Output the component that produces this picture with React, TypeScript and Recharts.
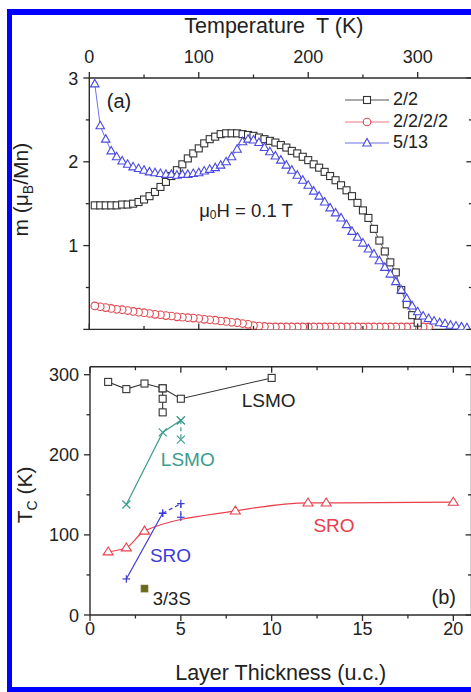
import React from 'react';
import { ComposedChart, Line, XAxis, YAxis, ReferenceDot, Legend, Label } from 'recharts';

const FONT = '"Liberation Sans", Arial, Helvetica, sans-serif';
const AX = '#2b2b2b';

// ---------- Panel (a): magnetization vs temperature ----------
const tempTicks = [0, 50, 100, 150, 200, 250, 300, 350];
const mTicks = [0, 0.5, 1, 1.5, 2, 2.5, 3];

const t22 = [5, 10, 15, 20, 25, 30, 35, 40, 45, 50, 55, 60, 65, 70, 75, 80, 85, 90, 95, 100, 105, 110, 115, 120, 125, 130, 135, 140, 145, 150, 155, 160, 165, 170, 175, 180, 185, 190, 195, 200, 205, 210, 215, 220, 225, 230, 235, 240, 245, 250, 255, 260, 265, 270, 275, 280, 285, 290, 295, 300];
const m22 = [1.48, 1.48, 1.48, 1.48, 1.48, 1.49, 1.49, 1.5, 1.52, 1.55, 1.59, 1.64, 1.7, 1.76, 1.83, 1.9, 1.97, 2.04, 2.1, 2.16, 2.22, 2.27, 2.3, 2.33, 2.34, 2.34, 2.34, 2.33, 2.32, 2.31, 2.29, 2.27, 2.25, 2.23, 2.2, 2.17, 2.13, 2.1, 2.06, 2.02, 1.97, 1.93, 1.88, 1.83, 1.78, 1.72, 1.66, 1.59, 1.51, 1.42, 1.33, 1.2, 1.06, 0.93, 0.8, 0.68, 0.47, 0.3, 0.17, 0.08];

const t2222 = [310, 305, 300, 295, 290, 285, 280, 275, 270, 265, 260, 255, 250, 245, 240, 235, 230, 225, 220, 215, 210, 205, 200, 195, 190, 185, 180, 175, 170, 165, 160, 155, 150, 145, 140, 135, 130, 125, 120, 115, 110, 105, 100, 95, 90, 85, 80, 75, 70, 65, 60, 55, 50, 45, 40, 35, 30, 25, 20, 15, 10, 5];
const m2222 = [0.03, 0.03, 0.03, 0.03, 0.03, 0.03, 0.03, 0.03, 0.03, 0.03, 0.03, 0.03, 0.03, 0.03, 0.03, 0.03, 0.03, 0.03, 0.03, 0.03, 0.03, 0.03, 0.03, 0.03, 0.03, 0.03, 0.03, 0.03, 0.03, 0.03, 0.035, 0.04, 0.045, 0.06, 0.07, 0.08, 0.085, 0.095, 0.1, 0.11, 0.115, 0.12, 0.13, 0.135, 0.14, 0.145, 0.15, 0.16, 0.165, 0.175, 0.18, 0.19, 0.2, 0.205, 0.215, 0.225, 0.235, 0.24, 0.25, 0.26, 0.27, 0.28];

const t513 = [5, 10, 15, 20, 25, 30, 35, 40, 45, 50, 55, 60, 65, 70, 75, 80, 85, 90, 95, 100, 105, 110, 115, 120, 125, 130, 135, 140, 145, 150, 155, 160, 165, 170, 175, 180, 185, 190, 195, 200, 205, 210, 215, 220, 225, 230, 235, 240, 245, 250, 255, 260, 265, 270, 275, 280, 285, 290, 295, 300, 305, 310, 315, 320, 325, 330, 335, 340, 345];
const m513 = [2.93, 2.43, 2.27, 2.13, 2.06, 2.01, 1.97, 1.94, 1.92, 1.9, 1.88, 1.87, 1.86, 1.85, 1.85, 1.84, 1.85, 1.85, 1.86, 1.87, 1.89, 1.91, 1.93, 1.96, 2.0, 2.06, 2.15, 2.24, 2.27, 2.26, 2.23, 2.17, 2.12, 2.07, 2.02, 1.96, 1.9, 1.84, 1.78, 1.72, 1.65, 1.59, 1.52, 1.45, 1.39, 1.33, 1.25, 1.17, 1.1, 1.03, 0.96, 0.9, 0.82, 0.74, 0.66, 0.57, 0.47, 0.37, 0.28, 0.21, 0.16, 0.13, 0.1, 0.08, 0.07, 0.05, 0.04, 0.03, 0.02];

// ---------- Panel (b): Tc vs layer thickness ----------
const thickTicks = [0, 2.5, 5, 7.5, 10, 12.5, 15, 17.5, 20];
const tcTicks = [0, 50, 100, 150, 200, 250, 300];

const lsmoBlackX = [1, 2, 3, 4, 5, 10];
const lsmoBlackY = [291, 282, 289, 283, 270, 296];
const lsmoBlackStackX = [4, 4, 4];
const lsmoBlackStackY = [283, 270, 253];

const lsmoTealX = [2, 4, 5];
const lsmoTealY = [138, 228, 243];
const lsmoTealDashX = [5, 5];
const lsmoTealDashY = [243, 219];

const sroBlueX = [2, 4];
const sroBlueY = [45, 127];
const sroBlueDashX = [4, 5, 5];
const sroBlueDashY = [127, 139, 122];

const sroRedX = [1, 2, 3, 8, 12, 13, 20];
const sroRedY = [79, 84, 105, 130, 140, 140, 141];

const s33X = [3];
const s33Y = [33];

const legendLabels = ['2/2', '2/2/2/2', '5/13'];

const zip = (xs: number[], ys: number[]) => xs.map((x, i) => ({ x, y: ys[i] }));

// ---------- colours ----------
const C_BLACK = '#333333';
const C_RED = '#e2474f';
const C_RED_LINE = '#ea7a7f';
const C_BLUE = '#4a4ae0';
const C_BLUE_LINE = '#6f6fe8';
const C_TEAL = '#3a9c8c';
const C_SRO_BLUE = '#3c3cd6';
const C_SRO_RED = '#e8404c';
const C_OLIVE = '#6a6a1c';

// ---------- markers ----------
const sq = (color: string, s: number, fill = '#fff') => (p: any) =>
  p.cx == null ? <g key={`e${p.index}`} /> : (
    <rect key={`s${p.index}`} x={p.cx - s / 2} y={p.cy - s / 2} width={s} height={s} fill={fill} stroke={color} strokeWidth={1.1} />
  );
const circ = (color: string, r: number) => (p: any) =>
  p.cx == null ? <g key={`e${p.index}`} /> : (
    <circle key={`c${p.index}`} cx={p.cx} cy={p.cy} r={r} fill="#fff" stroke={color} strokeWidth={1.1} />
  );
const tri = (color: string, w: number, h: number) => (p: any) =>
  p.cx == null ? <g key={`e${p.index}`} /> : (
    <polygon
      key={`t${p.index}`}
      points={`${p.cx},${p.cy - h * 0.6} ${p.cx - w / 2},${p.cy + h * 0.4} ${p.cx + w / 2},${p.cy + h * 0.4}`}
      fill="#fff"
      stroke={color}
      strokeWidth={1.1}
    />
  );
const xmark = (color: string, s: number) => (p: any) =>
  p.cx == null ? <g key={`e${p.index}`} /> : (
    <g key={`x${p.index}`} stroke={color} strokeWidth={1.2}>
      <line x1={p.cx - s} y1={p.cy - s} x2={p.cx + s} y2={p.cy + s} />
      <line x1={p.cx - s} y1={p.cy + s} x2={p.cx + s} y2={p.cy - s} />
    </g>
  );
const plus = (color: string, s: number) => (p: any) =>
  p.cx == null ? <g key={`e${p.index}`} /> : (
    <g key={`p${p.index}`} stroke={color} strokeWidth={1.2}>
      <line x1={p.cx - s} y1={p.cy} x2={p.cx + s} y2={p.cy} />
      <line x1={p.cx} y1={p.cy - s} x2={p.cx} y2={p.cy + s} />
    </g>
  );

// ---------- ticks ----------
type Side = 'top' | 'bottom' | 'left' | 'right';
const makeTick = (side: Side, out: boolean, isMajor: (v: number) => boolean, showLabel: (v: number) => boolean) => (p: any) => {
  const { x, y, payload } = p;
  const v = payload.value;
  const major = isMajor(v);
  const len = major ? 6 : 3.5;
  const s = out ? 1 : -1;
  let x2 = x;
  let y2 = y;
  if (side === 'top') y2 = y - s * len;
  if (side === 'bottom') y2 = y + s * len;
  if (side === 'left') x2 = x - s * len;
  if (side === 'right') x2 = x + s * len;
  let label = null;
  if (major && showLabel(v)) {
    const common = { fontSize: 18, fill: '#222', fontFamily: FONT };
    if (side === 'top') label = <text x={x} y={y - 15} textAnchor="middle" {...common}>{v}</text>;
    if (side === 'bottom') label = <text x={x} y={y + 20} textAnchor="middle" {...common}>{v}</text>;
    if (side === 'left') label = <text x={x - 11} y={y + 6.5} textAnchor="end" {...common}>{v}</text>;
  }
  return (
    <g>
      <line x1={x} y1={y} x2={x2} y2={y2} stroke={AX} strokeWidth={1.3} />
      {label}
    </g>
  );
};

const axisLine = { stroke: AX, strokeWidth: 1.4 };
const none = () => false;

// ---------- labels ----------
const titleTop = (p: any) => {
  const vb = p.viewBox;
  return (
    <text x={vb.x + vb.width / 2 - 7} y={vb.y + 33} textAnchor="middle" fontSize={21.5} fill="#222" fontFamily={FONT}>
      Temperature<tspan dx={11}>T (K)</tspan>
    </text>
  );
};
const titleBottom = (p: any) => {
  const vb = p.viewBox;
  return (
    <text x={vb.x + vb.width / 2} y={vb.y + 65} textAnchor="middle" fontSize={21.5} fill="#222" fontFamily={FONT}>
      Layer Thickness (u.c.)
    </text>
  );
};
const titleM = (p: any) => {
  const vb = p.viewBox;
  const x = vb.x + 28;
  const y = vb.y + vb.height / 2 - 14;
  return (
    <text x={x} y={y} transform={`rotate(-90, ${x}, ${y})`} textAnchor="middle" fontSize={21} fill="#222" fontFamily={FONT}>
      m (μ<tspan dy={5} fontSize={14}>B</tspan><tspan dy={-5}>/Mn)</tspan>
    </text>
  );
};
const titleTc = (p: any) => {
  const vb = p.viewBox;
  const x = vb.x + 32;
  const y = vb.y + vb.height / 2 + 4;
  return (
    <text x={x} y={y} transform={`rotate(-90, ${x}, ${y})`} textAnchor="middle" fontSize={21} fill="#222" fontFamily={FONT}>
      T<tspan dy={5} fontSize={14}>C</tspan><tspan dy={-5}> (K)</tspan>
    </text>
  );
};

const note = (content: React.ReactNode, color: string, size = 18.5) => (p: any) => (
  <text x={p.cx} y={p.cy} dominantBaseline="central" fontSize={size} fill={color} fontFamily={FONT}>
    {content}
  </text>
);

// ---------- legend ----------
const legendItems = [
  { label: legendLabels[0], line: '#555', marker: 'sq', color: C_BLACK },
  { label: legendLabels[1], line: C_RED_LINE, marker: 'circ', color: C_RED },
  { label: legendLabels[2], line: C_BLUE_LINE, marker: 'tri', color: C_BLUE },
];
const renderLegend = () => (
  <div style={{ fontFamily: FONT, fontSize: 18, color: '#222' }}>
    {legendItems.map((it) => (
      <div key={it.label} style={{ display: 'flex', alignItems: 'center', height: 21.7 }}>
        <svg width={44} height={16} style={{ display: 'block' }}>
          <line x1={0} y1={8} x2={44} y2={8} stroke={it.line} strokeWidth={1.2} />
          {it.marker === 'sq' && <rect x={18.5} y={4.5} width={7} height={7} fill="#fff" stroke={it.color} strokeWidth={1.1} />}
          {it.marker === 'circ' && <circle cx={22} cy={8} r={3.8} fill="#fff" stroke={it.color} strokeWidth={1.1} />}
          {it.marker === 'tri' && <polygon points="22,3.5 17.8,11 26.2,11" fill="#fff" stroke={it.color} strokeWidth={1.1} />}
        </svg>
        <span style={{ marginLeft: 4, lineHeight: '21.7px' }}>{it.label}</span>
      </div>
    ))}
  </div>
);

const M0 = { top: 0, right: 0, bottom: 0, left: 0 };

export default function App() {
  return (
    <div style={{ position: 'fixed', left: 0, top: 0, width: 471, height: 692, overflow: 'hidden', background: '#fff' }}>
      <div
        style={{
          position: 'absolute',
          left: 7,
          top: 9,
          width: 490,
          height: 683,
          boxSizing: 'border-box',
          borderTop: '6px solid #0000ff',
          borderLeft: '5px solid #0000ff',
          borderBottom: '5px solid #0000ff',
        }}
      />
      {/* Panel (a) */}
      <div style={{ position: 'absolute', left: 0, top: 0 }}>
        <ComposedChart width={480} height={345} margin={M0}>
          <XAxis xAxisId="top" orientation="top" type="number" dataKey="x" domain={[0, 350]} ticks={tempTicks} interval={0} height={78}
            tickSize={0} tickMargin={0} tickLine={false} axisLine={axisLine} allowDataOverflow
            tick={makeTick('top', true, (v) => v % 100 === 0, () => true)}>
            <Label content={titleTop} />
          </XAxis>
          <XAxis xAxisId="bot" orientation="bottom" type="number" dataKey="x" domain={[0, 350]} ticks={tempTicks} interval={0} height={15.6}
            tickSize={0} tickMargin={0} tickLine={false} axisLine={axisLine} allowDataOverflow
            tick={makeTick('bottom', false, (v) => v % 100 === 0, none)} />
          <YAxis yAxisId="left" orientation="left" type="number" domain={[0, 3]} ticks={mTicks} interval={0} width={89.3}
            tickSize={0} tickMargin={0} tickLine={false} axisLine={axisLine} allowDataOverflow
            tick={makeTick('left', true, (v) => Number.isInteger(v), (v) => v !== 0)}>
            <Label content={titleM} />
          </YAxis>
          <YAxis yAxisId="right" orientation="right" type="number" domain={[0, 3]} ticks={mTicks} interval={0} width={7.6}
            tickSize={0} tickMargin={0} tickLine={false} axisLine={axisLine} allowDataOverflow
            tick={makeTick('right', false, (v) => Number.isInteger(v), none)} />

          <Line xAxisId="top" yAxisId="left" data={zip(t2222, m2222)} dataKey="y" stroke={C_RED_LINE} strokeWidth={1}
            dot={circ(C_RED, 3.8)} activeDot={false} isAnimationActive={false} />
          <Line xAxisId="top" yAxisId="left" data={zip(t22, m22)} dataKey="y" stroke="#666" strokeWidth={1}
            dot={sq(C_BLACK, 7)} activeDot={false} isAnimationActive={false} />
          <Line xAxisId="top" yAxisId="left" data={zip(t513, m513)} dataKey="y" stroke={C_BLUE_LINE} strokeWidth={1}
            dot={tri(C_BLUE, 8.5, 7.5)} activeDot={false} isAnimationActive={false} />

          <ReferenceDot xAxisId="top" yAxisId="left" x={16} y={2.73} shape={note('(a)', '#222', 20)} />
          <ReferenceDot xAxisId="top" yAxisId="left" x={100.4} y={1.42}
            shape={note(<>μ<tspan dy={5} fontSize={12}>0</tspan><tspan dy={-5}>H = 0.1 T</tspan></>, '#222', 18.5)} />

          <Legend layout="vertical" align="center" verticalAlign="middle" content={renderLegend}
            wrapperStyle={{ position: 'absolute', left: 345, top: 89, width: 130, height: 66 }} />
        </ComposedChart>
      </div>

      {/* Panel (b) */}
      <div style={{ position: 'absolute', left: 0, top: 345 }}>
        <ComposedChart width={480} height={347} margin={M0}>
          <XAxis xAxisId="top" orientation="top" type="number" dataKey="x" domain={[0, 21]} ticks={thickTicks} interval={0} height={21.7}
            tickSize={0} tickMargin={0} tickLine={false} axisLine={axisLine} allowDataOverflow
            tick={makeTick('top', false, (v) => v % 5 === 0, none)} />
          <XAxis xAxisId="bot" orientation="bottom" type="number" dataKey="x" domain={[0, 21]} ticks={thickTicks} interval={0} height={77}
            tickSize={0} tickMargin={0} tickLine={false} axisLine={axisLine} allowDataOverflow
            tick={makeTick('bottom', true, (v) => v % 5 === 0, () => true)}>
            <Label content={titleBottom} />
          </XAxis>
          <YAxis yAxisId="left" orientation="left" type="number" domain={[0, 310]} ticks={tcTicks} interval={0} width={90}
            tickSize={0} tickMargin={0} tickLine={false} axisLine={axisLine} allowDataOverflow
            tick={makeTick('left', true, (v) => v % 100 === 0, () => true)}>
            <Label content={titleTc} />
          </YAxis>
          <YAxis yAxisId="right" orientation="right" type="number" domain={[0, 310]} ticks={tcTicks} interval={0} width={8.5}
            tickSize={0} tickMargin={0} tickLine={false} axisLine={axisLine} allowDataOverflow
            tick={makeTick('right', false, (v) => v % 100 === 0, none)} />

          <Line xAxisId="bot" yAxisId="left" data={zip(sroRedX, sroRedY)} dataKey="y" type="monotone" stroke={C_SRO_RED} strokeWidth={1.2}
            dot={tri(C_SRO_RED, 10, 8)} activeDot={false} isAnimationActive={false} />
          <Line xAxisId="bot" yAxisId="left" data={zip(lsmoBlackStackX, lsmoBlackStackY)} dataKey="y" stroke={C_BLACK} strokeWidth={1.1}
            dot={sq(C_BLACK, 7)} activeDot={false} isAnimationActive={false} />
          <Line xAxisId="bot" yAxisId="left" data={zip(lsmoBlackX, lsmoBlackY)} dataKey="y" stroke={C_BLACK} strokeWidth={1.1}
            dot={sq(C_BLACK, 7)} activeDot={false} isAnimationActive={false} />
          <Line xAxisId="bot" yAxisId="left" data={zip(lsmoTealX, lsmoTealY)} dataKey="y" stroke={C_TEAL} strokeWidth={1.2}
            dot={xmark(C_TEAL, 4)} activeDot={false} isAnimationActive={false} />
          <Line xAxisId="bot" yAxisId="left" data={zip(lsmoTealDashX, lsmoTealDashY)} dataKey="y" stroke={C_TEAL} strokeWidth={1.2} strokeDasharray="4 3"
            dot={xmark(C_TEAL, 4)} activeDot={false} isAnimationActive={false} />
          <Line xAxisId="bot" yAxisId="left" data={zip(sroBlueX, sroBlueY)} dataKey="y" stroke={C_SRO_BLUE} strokeWidth={1.2}
            dot={plus(C_SRO_BLUE, 3.8)} activeDot={false} isAnimationActive={false} />
          <Line xAxisId="bot" yAxisId="left" data={zip(sroBlueDashX, sroBlueDashY)} dataKey="y" stroke={C_SRO_BLUE} strokeWidth={1.2} strokeDasharray="4 3"
            dot={plus(C_SRO_BLUE, 3.8)} activeDot={false} isAnimationActive={false} />
          <Line xAxisId="bot" yAxisId="left" data={zip(s33X, s33Y)} dataKey="y" stroke="none"
            dot={sq(C_OLIVE, 6.5, C_OLIVE)} activeDot={false} isAnimationActive={false} />

          <ReferenceDot xAxisId="bot" yAxisId="left" x={8.35} y={268} shape={note('LSMO', '#222', 19)} />
          <ReferenceDot xAxisId="bot" yAxisId="left" x={3.9} y={194} shape={note('LSMO', C_TEAL, 19)} />
          <ReferenceDot xAxisId="bot" yAxisId="left" x={12.3} y={112} shape={note('SRO', C_SRO_RED, 19)} />
          <ReferenceDot xAxisId="bot" yAxisId="left" x={3.3} y={74} shape={note('SRO', C_SRO_BLUE, 19)} />
          <ReferenceDot xAxisId="bot" yAxisId="left" x={3.45} y={20} shape={note('3/3S', '#222', 18.5)} />
          <ReferenceDot xAxisId="bot" yAxisId="left" x={18.8} y={22.4} shape={note('(b)', '#222', 20)} />
        </ComposedChart>
      </div>
    </div>
  );
}
